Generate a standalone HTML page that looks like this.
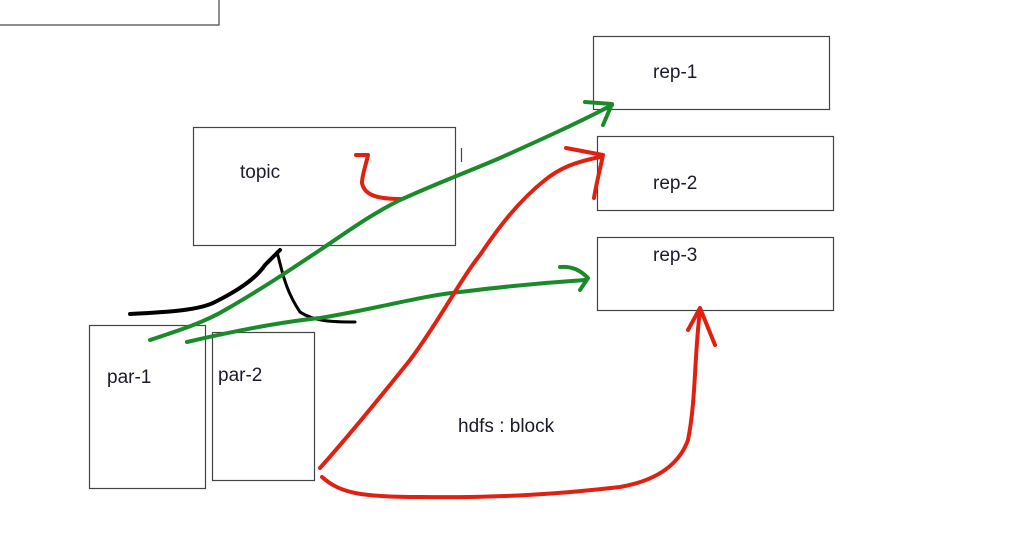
<!DOCTYPE html>
<html><head><style>
html,body{margin:0;padding:0;background:#fff;}
svg{display:block;}
text{font-family:"Liberation Sans",sans-serif;font-size:19px;fill:#1a1a2a;}
</style></head><body>
<svg width="1016" height="555" viewBox="0 0 1016 555">
<g fill="none" stroke="#444" stroke-width="1.2">
<rect x="-2" y="-2" width="221" height="27"/>
<rect x="193.5" y="127.5" width="262" height="118"/>
<rect x="89.5" y="325.5" width="116" height="163"/>
<rect x="212.5" y="332.5" width="102" height="148"/>
<rect x="593.5" y="36.5" width="236" height="73"/>
<rect x="597.5" y="136.5" width="236" height="74"/>
<rect x="597.5" y="237.5" width="236" height="73"/>
<line x1="461.5" y1="148" x2="461.5" y2="162"/>
</g>
<text x="240" y="178">topic</text>
<text x="653" y="78">rep-1</text>
<text x="653" y="189">rep-2</text>
<text x="653" y="261">rep-3</text>
<text x="107" y="383">par-1</text>
<text x="218" y="381">par-2</text>
<text x="458" y="432">hdfs : block</text>
<g fill="none" stroke-linecap="round" stroke-linejoin="round">
<path d="M130,314 C170,312 200,310 215,302 C235,292 255,280 265,265 L280,250" stroke="#000" stroke-width="4"/>
<path d="M277,252 C282,270 285,290 300,312 C315,322 335,322 355,322" stroke="#000" stroke-width="3"/>
<path d="M356,155 L368,155 C366,165 362,175 362,183 C364,194 375,199 400,199" stroke="#e02010" stroke-width="4"/>
<path d="M150,340 C180,330 205,322 225,310 C260,290 290,270 320,250 C350,230 370,215 400,200 C440,182 460,175 500,158 C540,140 580,122 612,105" stroke="#1a8a2a" stroke-width="4"/>
<path d="M585,102 L612,104 L603,125" stroke="#1a8a2a" stroke-width="4"/>
<path d="M187,342 C230,332 280,322 320,318 C380,308 420,296 460,292 C500,287 540,283 585,280" stroke="#1a8a2a" stroke-width="4"/>
<path d="M560,267 C572,266 580,270 588,278 L580,290" stroke="#1a8a2a" stroke-width="4"/>
<path d="M320,468 C345,440 370,410 410,360 C440,320 460,280 480,255 C500,225 520,200 545,180 C560,168 575,162 600,157" stroke="#e02010" stroke-width="4"/>
<path d="M566,148 L603,155 C600,170 596,185 594,198" stroke="#e02010" stroke-width="4"/>
<path d="M322,477 C340,493 360,497 420,497 C500,498 560,494 620,487 C660,480 680,462 688,440 C696,400 694,360 700,310" stroke="#e02010" stroke-width="4"/>
<path d="M688,330 L700,308 L715,345" stroke="#e02010" stroke-width="4"/>
</g>
</svg>
</body></html>
